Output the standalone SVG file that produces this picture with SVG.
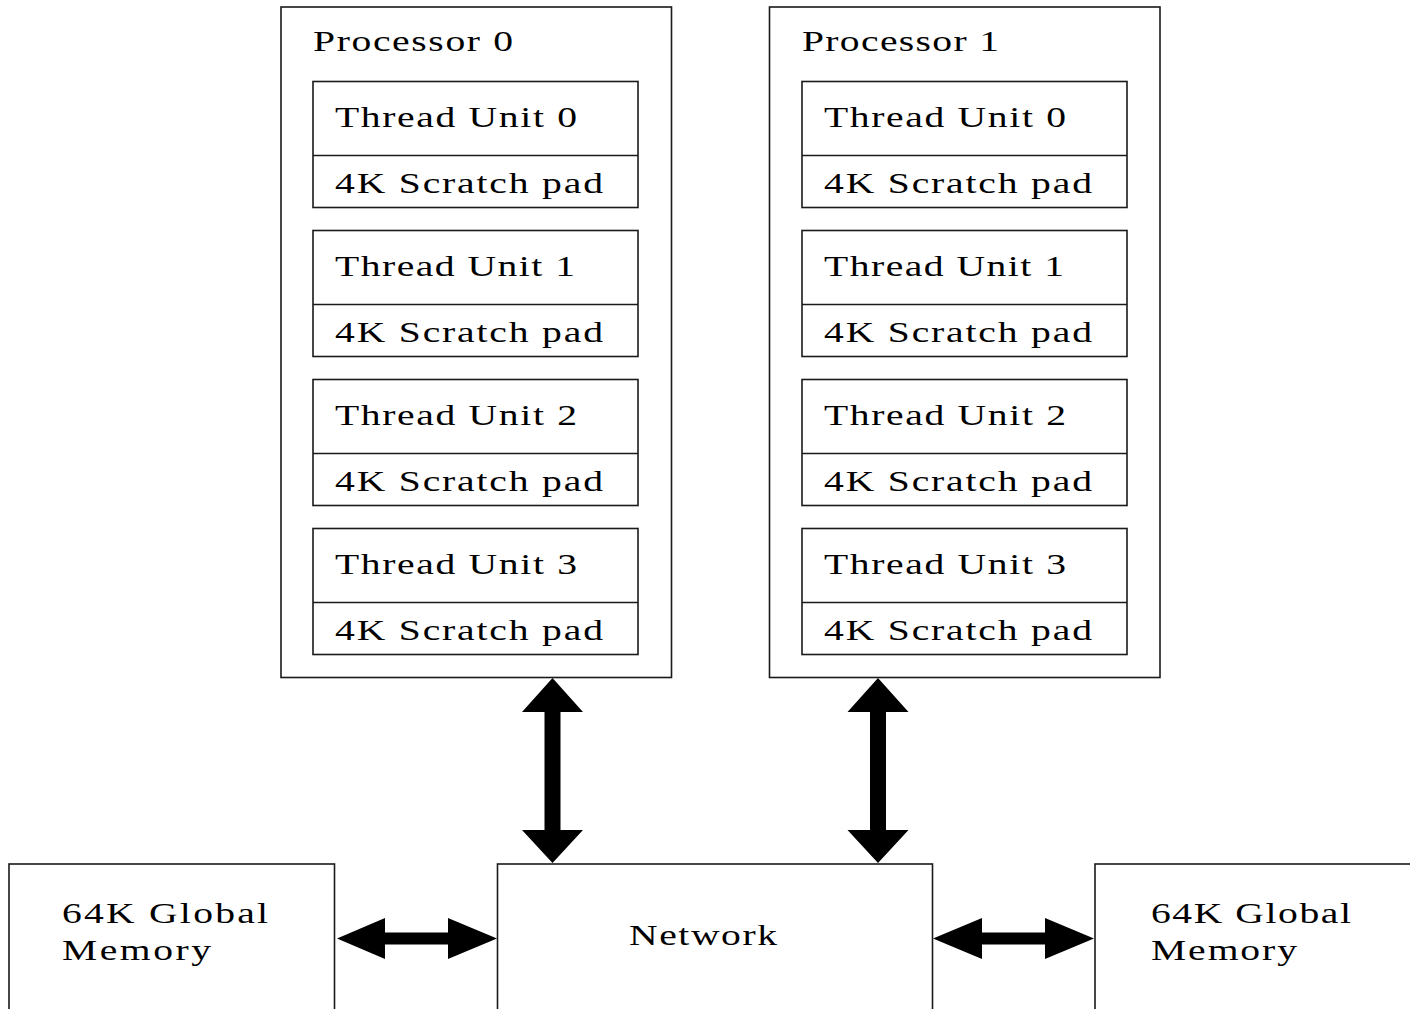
<svg xmlns="http://www.w3.org/2000/svg" width="1410" height="1009" viewBox="0 0 1410 1009">
<style>
.box{fill:#fff;stroke:#1a1a1a;stroke-width:1.6}
.ln{stroke:#1a1a1a;stroke-width:1.6}
text{font-family:"Liberation Serif","Times New Roman",serif;font-size:30px;fill:#000}
.arr{fill:#000}
</style>
<rect width="1410" height="1009" fill="#fff"/>
<g id="processor0">
<rect class="box" x="281" y="7" width="390.5" height="670.5"/>
<text transform="translate(313,51) scale(1.32,1)" textLength="151.5">Processor 0</text>
<g id="p0-tu0"><rect class="box" x="313" y="81.5" width="325" height="126"/><line class="ln" x1="313" y1="155.5" x2="638" y2="155.5"/>
<text transform="translate(335,126.5) scale(1.32,1)" textLength="183.3">Thread Unit 0</text>
<text transform="translate(335,193) scale(1.32,1)" textLength="203">4K Scratch pad</text></g>
<g id="p0-tu1"><rect class="box" x="313" y="230.5" width="325" height="126"/><line class="ln" x1="313" y1="304.5" x2="638" y2="304.5"/>
<text transform="translate(335,275.5) scale(1.32,1)" textLength="181.8">Thread Unit 1</text>
<text transform="translate(335,342) scale(1.32,1)" textLength="203">4K Scratch pad</text></g>
<g id="p0-tu2"><rect class="box" x="313" y="379.5" width="325" height="126"/><line class="ln" x1="313" y1="453.5" x2="638" y2="453.5"/>
<text transform="translate(335,424.5) scale(1.32,1)" textLength="183.3">Thread Unit 2</text>
<text transform="translate(335,491) scale(1.32,1)" textLength="203">4K Scratch pad</text></g>
<g id="p0-tu3"><rect class="box" x="313" y="528.5" width="325" height="126"/><line class="ln" x1="313" y1="602.5" x2="638" y2="602.5"/>
<text transform="translate(335,573.5) scale(1.32,1)" textLength="183.3">Thread Unit 3</text>
<text transform="translate(335,640) scale(1.32,1)" textLength="203">4K Scratch pad</text></g>
</g>
<g id="processor1">
<rect class="box" x="769.5" y="7" width="390.5" height="670.5"/>
<text transform="translate(802,51) scale(1.32,1)" textLength="149.2">Processor 1</text>
<g id="p1-tu0"><rect class="box" x="802" y="81.5" width="325" height="126"/><line class="ln" x1="802" y1="155.5" x2="1127" y2="155.5"/>
<text transform="translate(824,126.5) scale(1.32,1)" textLength="183.3">Thread Unit 0</text>
<text transform="translate(824,193) scale(1.32,1)" textLength="203">4K Scratch pad</text></g>
<g id="p1-tu1"><rect class="box" x="802" y="230.5" width="325" height="126"/><line class="ln" x1="802" y1="304.5" x2="1127" y2="304.5"/>
<text transform="translate(824,275.5) scale(1.32,1)" textLength="181.8">Thread Unit 1</text>
<text transform="translate(824,342) scale(1.32,1)" textLength="203">4K Scratch pad</text></g>
<g id="p1-tu2"><rect class="box" x="802" y="379.5" width="325" height="126"/><line class="ln" x1="802" y1="453.5" x2="1127" y2="453.5"/>
<text transform="translate(824,424.5) scale(1.32,1)" textLength="183.3">Thread Unit 2</text>
<text transform="translate(824,491) scale(1.32,1)" textLength="203">4K Scratch pad</text></g>
<g id="p1-tu3"><rect class="box" x="802" y="528.5" width="325" height="126"/><line class="ln" x1="802" y1="602.5" x2="1127" y2="602.5"/>
<text transform="translate(824,573.5) scale(1.32,1)" textLength="183.3">Thread Unit 3</text>
<text transform="translate(824,640) scale(1.32,1)" textLength="203">4K Scratch pad</text></g>
</g>
<g id="memory0">
<rect class="box" x="9" y="864" width="325.5" height="200"/>
<text transform="translate(62,923) scale(1.32,1)" textLength="156.1">64K Global</text>
<text transform="translate(62,960) scale(1.32,1)" textLength="112.9">Memory</text>
</g>
<g id="network">
<rect class="box" x="497.5" y="864" width="435" height="200"/>
<text transform="translate(629,945) scale(1.32,1)" textLength="112.1">Network</text>
</g>
<g id="memory1">
<rect class="box" x="1095" y="864" width="340" height="200"/>
<text transform="translate(1151,923) scale(1.32,1)" textLength="151.5">64K Global</text>
<text transform="translate(1151,960) scale(1.32,1)" textLength="110.6">Memory</text>
</g>
<g id="connectors">
<polygon class="arr" points="552.5,678 583,712 560.5,712 560.5,830 583,830 552.5,863 522,830 544.5,830 544.5,712 522,712"/>
<polygon class="arr" points="878,678 908.5,712 886,712 886,830 908.5,830 878,863 847.5,830 870,830 870,712 847.5,712"/>
<polygon class="arr" points="337,938.5 385,918 385,932.5 448,932.5 448,918 497,938.5 448,959 448,944.5 385,944.5 385,959"/>
<polygon class="arr" points="933,938.5 982,918 982,932.5 1045,932.5 1045,918 1094,938.5 1045,959 1045,944.5 982,944.5 982,959"/>
</g>
</svg>
